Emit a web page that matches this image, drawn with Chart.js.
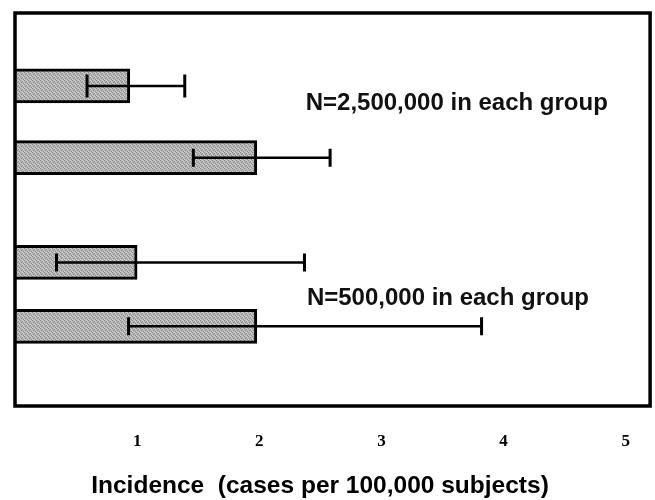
<!DOCTYPE html>
<html>
<head>
<meta charset="utf-8">
<script src="https://cdn.jsdelivr.net/npm/chart.js@4/dist/chart.umd.min.js"></script>
<style>
  html, body { margin: 0; padding: 0; background: #ffffff; }
  #wrap { width: 655px; height: 500px; position: relative; }
</style>
</head>
<body>
<div id="wrap"><canvas id="c" width="655" height="500"></canvas></div>
<script>
// ---- data ----
const categories = ['Group A (N=2,500,000)', 'Group B (N=2,500,000)', 'Group A (N=500,000)', 'Group B (N=500,000)'];
const incidence = [0.94, 1.98, 1.00, 1.98];
const ciLow = [0.59, 1.46, 0.34, 0.93];
const ciHigh = [1.39, 2.58, 2.37, 3.82];
const tickValues = [1, 2, 3, 4, 5];
const noteLabels = ['N=2,500,000 in each group', 'N=500,000 in each group'];
const axisTitle = 'Incidence  (cases per 100,000 subjects)';

// ---- layout (row placement on hidden vertical axis) ----
const rowPos = [2.04, 4.05, 6.98, 8.77];
const notePos = [{ x: 2.38, y: 2.71 }, { x: 2.39, y: 8.18 }];

// stippled grey fill (fixed dither pattern)
function makeStipple() {
  const p = document.createElement('canvas');
  p.width = 4; p.height = 4;
  const g = p.getContext('2d');
  g.fillStyle = '#b6b6b6';
  g.fillRect(0, 0, 4, 4);
  g.fillStyle = '#8e8e8e';
  [[0, 0], [2, 1], [1, 2], [3, 3]].forEach(([a, b]) => g.fillRect(a, b, 1, 1));
  g.fillStyle = '#d2d2d2';
  [[2, 0], [0, 3], [3, 1]].forEach(([a, b]) => g.fillRect(a, b, 1, 1));
  return g.createPattern(p, 'repeat');
}

const framePlugin = {
  id: 'frame',
  afterDraw(chart) {
    const { ctx, chartArea: a } = chart;
    ctx.save();
    ctx.strokeStyle = '#000';
    ctx.lineWidth = 3.5;
    ctx.strokeRect(a.left, a.top, a.right - a.left, a.bottom - a.top);
    ctx.restore();
  }
};

const errorBarPlugin = {
  id: 'errorBars',
  afterDatasetsDraw(chart) {
    const { ctx, scales: { x, y } } = chart;
    ctx.save();
    ctx.strokeStyle = '#000';
    ctx.lineCap = 'butt';
    rowPos.forEach((r, i) => {
      const py = y.getPixelForValue(r);
      const x0 = x.getPixelForValue(ciLow[i]);
      const x1 = x.getPixelForValue(ciHigh[i]);
      const cap = i === 0 ? 11.5 : 9;
      ctx.lineWidth = 2.5;
      ctx.beginPath();
      ctx.moveTo(x0, py); ctx.lineTo(x1, py);
      ctx.stroke();
      ctx.lineWidth = 3;
      ctx.beginPath();
      ctx.moveTo(x0, py - cap); ctx.lineTo(x0, py + cap);
      ctx.moveTo(x1, py - cap); ctx.lineTo(x1, py + cap);
      ctx.stroke();
    });
    ctx.restore();
  }
};

const textPlugin = {
  id: 'texts',
  afterDraw(chart) {
    const { ctx, scales: { x, y } } = chart;
    ctx.save();
    ctx.fillStyle = '#111';
    ctx.font = 'bold 24px "Liberation Sans", Arial, sans-serif';
    ctx.textAlign = 'left';
    ctx.textBaseline = 'alphabetic';
    noteLabels.forEach((t, i) => {
      ctx.fillText(t, x.getPixelForValue(notePos[i].x), y.getPixelForValue(notePos[i].y));
    });
    // axis title
    ctx.fillStyle = '#000';
    ctx.font = 'bold 24.5px "Liberation Sans", Arial, sans-serif';
    ctx.textAlign = 'center';
    ctx.fillText(axisTitle, 320, 493);
    ctx.restore();
  }
};

new Chart(document.getElementById('c'), {
  type: 'bar',
  data: {
    datasets: [{
      label: 'Incidence',
      data: incidence.map((v, i) => ({ x: v, y: rowPos[i], name: categories[i] })),
      backgroundColor: makeStipple(),
      borderColor: '#000',
      borderWidth: 3,
      borderSkipped: 'start',
      barThickness: 34
    }]
  },
  options: {
    indexAxis: 'y',
    responsive: false,
    animation: false,
    devicePixelRatio: 1,
    layout: { padding: { left: 15, right: 2, top: 13, bottom: 0 } },
    plugins: {
      legend: { display: false },
      tooltip: { enabled: false }
    },
    scales: {
      y: {
        type: 'linear',
        display: false,
        reverse: true,
        offset: false,
        min: 0,
        max: 11
      },
      x: {
        type: 'linear',
        min: 0,
        max: 5.2,
        grid: { display: false, drawTicks: false },
        border: { display: false },
        afterBuildTicks(scale) {
          scale.ticks = tickValues.map(v => ({ value: v }));
        },
        afterFit(scale) {
          scale.height = 94;
        },
        ticks: {
          padding: 25,
          color: '#000',
          font: { family: '"Liberation Serif", "Times New Roman", serif', size: 17, weight: 'bold' },
          callback: (v) => String(v)
        },
        title: { display: false, text: axisTitle }
      }
    }
  },
  plugins: [framePlugin, errorBarPlugin, textPlugin]
});
</script>
</body>
</html>
